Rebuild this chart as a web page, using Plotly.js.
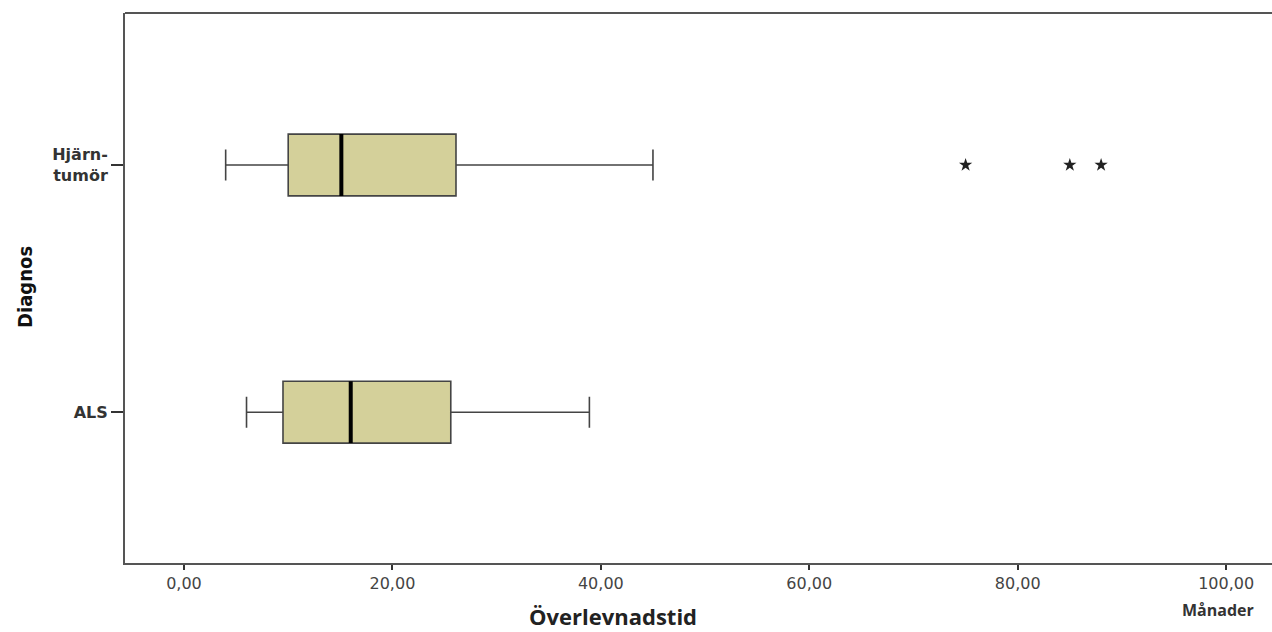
<!DOCTYPE html>
<html>
<head>
<meta charset="utf-8">
<script src="https://cdn.plot.ly/plotly-3.0.1.min.js"></script>
<style>html,body{margin:0;padding:0;background:#fff;}#chart{width:1272px;height:632px;}</style>
</head>
<body>
<div id="chart"></div>
<script>
const categories = ['ALS', 'Hjärntumör'];
const tickLabels = ['<b>ALS</b>', '<b>Hjärn-</b><br><b>tumör</b>'];
const lowerWhisker = [6.0, 4.0];
const q1 = [9.5, 10.0];
const median = [16.0, 15.1];
const q3 = [25.6, 26.1];
const upperWhisker = [38.9, 45.0];
const outlierValues = [75, 85, 88];
const outlierCategory = ['Hjärntumör', 'Hjärntumör', 'Hjärntumör'];
const xTicks = [0, 20, 40, 60, 80, 100];

const boxTrace = {
  type: 'box', orientation: 'h',
  y: categories, q1: q1, median: median, q3: q3,
  lowerfence: lowerWhisker, upperfence: upperWhisker,
  width: 0.25, whiskerwidth: 0.5,
  fillcolor: '#d4d09a',
  line: {color: '#444', width: 1.6},
  hoverinfo: 'skip', showlegend: false
};
const medianTrace = {
  type: 'box', orientation: 'h',
  y: categories, q1: median, median: median, q3: median,
  lowerfence: median, upperfence: median,
  width: 0.25, whiskerwidth: 0,
  fillcolor: 'rgba(0,0,0,0)',
  line: {color: '#000', width: 4},
  hoverinfo: 'skip', showlegend: false
};
const outlierTrace = {
  type: 'scatter', mode: 'markers',
  x: outlierValues, y: outlierCategory,
  marker: {symbol: 'star', size: 10, color: '#222'},
  hoverinfo: 'skip', showlegend: false
};

const layout = {
  width: 1272, height: 632,
  margin: {l: 125, r: 0, t: 13, b: 69},
  paper_bgcolor: '#fff', plot_bgcolor: '#fff',
  boxmode: 'overlay',
  separators: ',.',
  showlegend: false,
  xaxis: {
    range: [-5.66, 104.4], tickvals: xTicks, tickformat: '.2f',
    showgrid: false, zeroline: false,
    showline: true, linecolor: '#555', linewidth: 2,
    ticks: 'outside', ticklen: 5, tickwidth: 2, tickcolor: '#333',
    tickfont: {family: 'DejaVu Sans', size: 16, color: '#444'}
  },
  yaxis: {
    type: 'category', categoryorder: 'array', categoryarray: categories,
    range: [-0.61, 1.615],
    tickvals: categories, ticktext: tickLabels,
    showgrid: false, zeroline: false,
    showline: true, linecolor: '#555', linewidth: 2,
    ticks: 'outside', ticklen: 12, tickwidth: 2, tickcolor: '#333',
    tickfont: {family: 'DejaVu Sans', size: 16, color: '#333'}
  },
  shapes: [{type: 'line', xref: 'paper', yref: 'paper', x0: 0, x1: 1, y0: 1, y1: 1,
            line: {color: '#555', width: 2}}],
  annotations: [
    {text: '<b>Överlevnadstid</b>', xref: 'paper', yref: 'paper', x: 0.4255, y: -0.097,
     xanchor: 'center', yanchor: 'middle', showarrow: false,
     font: {family: 'Open Sans', size: 22, color: '#222'}},
    {text: '<b>Månader</b>', xref: 'paper', yref: 'paper', x: 0.953, y: -0.0855,
     xanchor: 'center', yanchor: 'middle', showarrow: false,
     font: {family: 'Open Sans', size: 16, color: '#333'}},
    {text: '<b>Diagnos</b>', xref: 'paper', yref: 'paper', x: -0.0872, y: 0.502,
     xanchor: 'center', yanchor: 'middle', showarrow: false, textangle: -90,
     font: {family: 'Liberation Sans Narrow, DejaVu Sans Condensed, Liberation Sans, sans-serif', size: 20, color: '#111'}}
  ]
};

Plotly.newPlot('chart', [boxTrace, medianTrace, outlierTrace], layout, {displayModeBar: false, staticPlot: true});
</script>
</body>
</html>
